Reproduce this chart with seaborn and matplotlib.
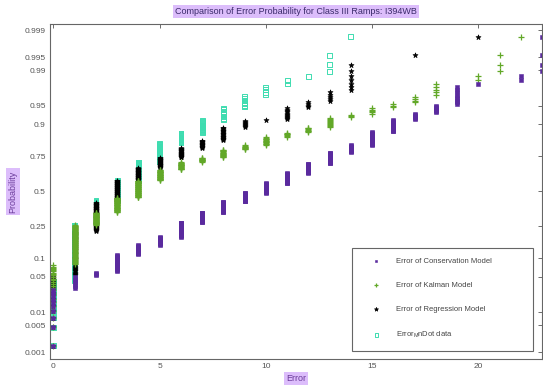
import matplotlib
matplotlib.use('Agg')
import matplotlib.pyplot as plt
import seaborn as sns
import pandas as pd
import numpy as np
from matplotlib.patches import Rectangle
from statistics import NormalDist

# number of observations at each integer error value (error = 0, 1, 2, ...)
conservation_counts = [10, 7, 3, 17, 13, 13, 28, 22, 26, 22, 24, 25, 22, 23, 13, 20, 14, 6, 6, 9, 1, 0, 2, 4]
kalman_counts = [26, 59, 28, 36, 43, 26, 17, 10, 15, 8, 13, 6, 7, 10, 3, 5, 3, 4, 5, 0, 2, 3, 1]
regression_counts = [17, 56, 63, 56, 30, 23, 18, 13, 18, 7, 1, 10, 4, 5, 7, 0, 0, 1, 0, 0, 1]
mndot_counts = [14, 71, 57, 50, 43, 36, 16, 15, 10, 7, 4, 2, 1, 3, 1]

series_names = ['Error of Conservation Model', 'Error of Kalman Model',
                'Error of Regression Model', r'Error$_{\rm M}$nDot data']
prob_ticks = [0.001, 0.005, 0.01, 0.05, 0.1, 0.25, 0.5, 0.75, 0.9, 0.95, 0.99, 0.995, 0.999]
prob_labels = ['0.001', '0.005', '0.01', '0.05', '0.1', '0.25', '0.5', '0.75', '0.9', '0.95', '0.99', '0.995', '0.999']
x_ticks = [0, 5, 10, 15, 20]

sns.set_style('white')
plt.rcParams['font.family'] = ['Liberation Sans', 'DejaVu Sans']
plt.rcParams['mathtext.fontset'] = 'custom'
plt.rcParams['mathtext.rm'] = 'Liberation Sans'

nd = NormalDist()


def normplot_frame(counts, name):
    '''Sorted data with normal-probability plotting positions (i - 0.5) / n.'''
    err = np.repeat(np.arange(len(counts)), counts)
    n = len(err)
    pp = (np.arange(1, n + 1) - 0.5) / n
    z = [nd.inv_cdf(p) for p in pp]
    return pd.DataFrame({'Error': err, 'z': z, 'Series': name})


frames = {name: normplot_frame(c, name) for name, c in
          zip(series_names, [conservation_counts, kalman_counts, regression_counts, mndot_counts])}

purple = '#5a2a9e'
green = '#62a828'
cyan = '#3fdcb0'
lav = '#dcbdfb'

fig = plt.figure(figsize=(5.43, 3.86), dpi=100)
ax = fig.add_axes([50 / 543, 1 - 359 / 386, 492 / 543, 335 / 386])

# draw order: MnDot, Regression, Kalman, Conservation
sns.scatterplot(data=frames[series_names[3]], x='Error', y='z', ax=ax, marker='s', s=12,
                color=cyan, linewidth=0.7, label=series_names[3])
ax.collections[-1].set_facecolor('none')
ax.collections[-1].set_edgecolor(cyan)
sns.scatterplot(data=frames[series_names[2]], x='Error', y='z', ax=ax, marker='*', s=14,
                color='black', edgecolor='black', linewidth=0.5, label=series_names[2])
sns.scatterplot(data=frames[series_names[1]], x='Error', y='z', ax=ax, marker='+', s=16,
                color=green, linewidth=0.9, label=series_names[1])
sns.scatterplot(data=frames[series_names[0]], x='Error', y='z', ax=ax, marker='s', s=7,
                color=purple, edgecolor=purple, linewidth=0.4, label=series_names[0])

ax.set_xlim(-0.164, 23.0)
ax.set_ylim(-3.22, 3.21)
ax.set_yticks([nd.inv_cdf(p) for p in prob_ticks])
ax.set_yticklabels(prob_labels)
ax.set_xticks(x_ticks)
ax.tick_params(direction='in', length=3, width=0.6, top=True, right=True,
               labelsize=6, colors='#555555', pad=3)
for sp in ax.spines.values():
    sp.set_color('#666666')
    sp.set_linewidth(0.8)

ax.set_title('Comparison of Error Probability for Class III Ramps: I394WB', fontsize=6.5,
             color='#3a2a6a', pad=7, bbox=dict(facecolor=lav, edgecolor='none', pad=1.5))
ax.set_xlabel('Error', fontsize=6.5, color='#6a3a9a', labelpad=3,
              bbox=dict(facecolor=lav, edgecolor='none', pad=1.5))
ax.set_ylabel('Probability', fontsize=6.5, color='#6a3a9a', labelpad=5,
              bbox=dict(facecolor=lav, edgecolor='none', pad=1.5))

# legend box drawn separately so it can be wider than its entries
ax.add_patch(Rectangle((352 / 543, 1 - 351 / 386), 181 / 543, 103 / 386,
                       transform=fig.transFigure, facecolor='white', edgecolor='#666666',
                       linewidth=0.8, zorder=4, clip_on=False))

handles, labels = ax.get_legend_handles_labels()
order = [labels.index(nm) for nm in series_names]
leg = ax.legend([handles[i] for i in order], [labels[i] for i in order],
                loc='lower right', bbox_to_anchor=(0.919, 0.024), fontsize=5.5,
                labelspacing=2.2, borderpad=1.4, handlelength=1.0, handletextpad=2.0,
                borderaxespad=0, frameon=False, markerscale=0.8)
leg.set_zorder(5)
for t in leg.get_texts():
    t.set_color('#444444')

fig.savefig('out.png', dpi=100)
